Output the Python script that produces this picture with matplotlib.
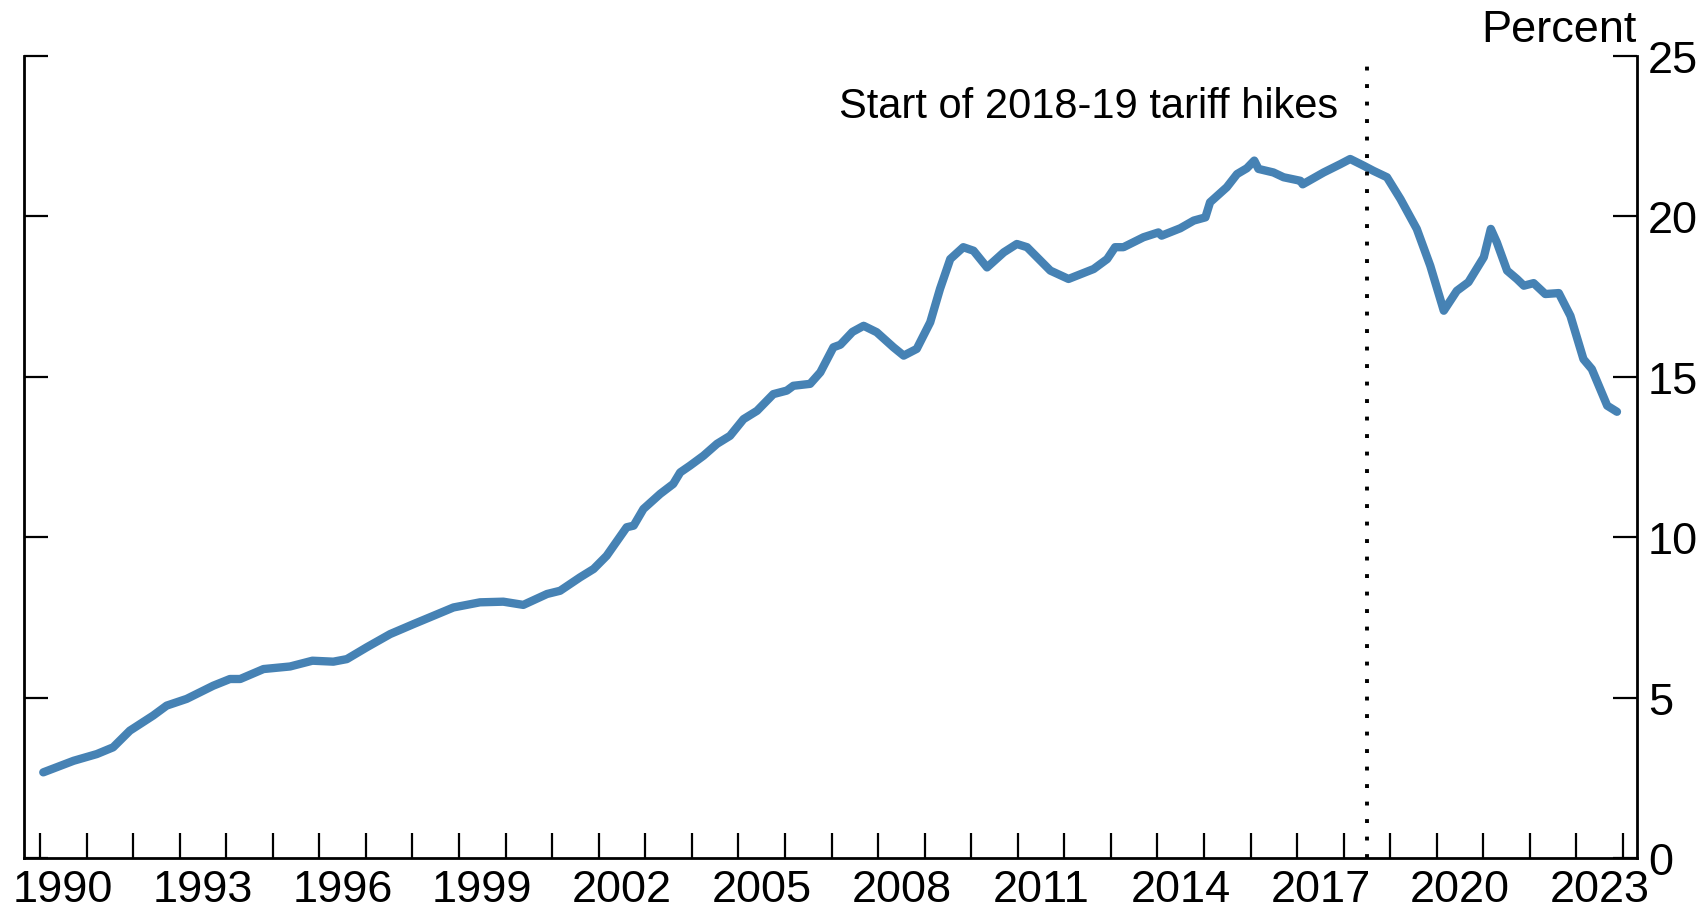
import matplotlib
matplotlib.use("Agg")
import matplotlib.pyplot as plt
import numpy as np

# China's share of US imports (decimal year, percent)
dates = [1990.07, 1990.72, 1991.22, 1991.57, 1991.93, 1992.43, 1992.72, 1993.15,
         1993.72, 1994.08, 1994.30, 1994.80, 1995.37, 1995.85, 1996.30, 1996.59,
         1997.02, 1997.52, 1998.02, 1998.45, 1998.88, 1999.45, 1999.95, 2000.38,
         2000.89, 2001.17, 2001.60, 2001.89, 2002.17, 2002.60, 2002.75, 2002.96,
         2003.32, 2003.60, 2003.75, 2003.96, 2004.25, 2004.54, 2004.82, 2005.11,
         2005.40, 2005.75, 2006.04, 2006.18, 2006.54, 2006.76, 2007.04, 2007.19,
         2007.45, 2007.69, 2007.97, 2008.33, 2008.55, 2008.83, 2009.12, 2009.33,
         2009.55, 2009.83, 2010.05, 2010.34, 2010.70, 2010.98, 2011.20, 2011.70,
         2012.09, 2012.63, 2012.92, 2013.09, 2013.27, 2013.70, 2014.02, 2014.09,
         2014.49, 2014.78, 2015.03, 2015.13, 2015.49, 2015.71, 2015.92, 2016.08,
         2016.17, 2016.49, 2016.71, 2017.07, 2017.12, 2017.57, 2017.93, 2018.14,
         2018.43, 2018.64, 2018.93, 2019.22, 2019.57, 2019.86, 2020.15, 2020.43,
         2020.68, 2021.01, 2021.16, 2021.29, 2021.51, 2021.72, 2021.87, 2022.08,
         2022.33, 2022.62, 2022.87, 2023.15, 2023.33, 2023.66, 2023.87]
share = [2.67, 3.03, 3.24, 3.45, 3.97, 4.44, 4.75, 4.96,
         5.37, 5.58, 5.58, 5.89, 5.97, 6.15, 6.12, 6.20,
         6.57, 6.98, 7.29, 7.55, 7.81, 7.97, 7.99, 7.89,
         8.23, 8.33, 8.75, 9.01, 9.42, 10.31, 10.36, 10.88,
         11.35, 11.66, 12.02, 12.23, 12.54, 12.91, 13.16, 13.68,
         13.94, 14.46, 14.57, 14.72, 14.78, 15.14, 15.92, 16.00,
         16.40, 16.59, 16.39, 15.92, 15.66, 15.87, 16.70, 17.74,
         18.67, 19.04, 18.93, 18.41, 18.88, 19.14, 19.04, 18.31,
         18.05, 18.36, 18.67, 19.04, 19.04, 19.35, 19.50, 19.40,
         19.63, 19.87, 19.97, 20.44, 20.91, 21.32, 21.50, 21.74,
         21.48, 21.37, 21.22, 21.11, 21.00, 21.37, 21.63, 21.79,
         21.58, 21.42, 21.22, 20.54, 19.61, 18.46, 17.06, 17.68,
         17.95, 18.73, 19.61, 19.19, 18.31, 18.05, 17.84, 17.92,
         17.58, 17.61, 16.90, 15.55, 15.24, 14.10, 13.91]

tariff_start = 2018.5
tariff_label = "Start of 2018-19 tariff hikes"
year_ticks = list(range(1990, 2025))
label_years = list(range(1990, 2024, 3))
y_ticks = [0, 5, 10, 15, 20, 25]

plt.rcParams['font.family'] = ['Liberation Sans', 'DejaVu Sans']

fig = plt.figure(figsize=(17.03, 9.12), dpi=100)
ax = fig.add_axes([24 / 1703, 1 - 859 / 912, (1637 - 24) / 1703, (859 - 57) / 912])

ax.plot(dates, share, color='#4682b4', lw=6.0, solid_joinstyle='round', solid_capstyle='round')
ax.vlines(tariff_start, 0, 24.8, colors='black', lw=2.8, linestyles=(0, (1, 3.5)))
ax.text(2017.88, 23.1, tariff_label, ha='right', va='baseline', fontsize=30)
ax.text(1.0, 1.0187, "Percent", transform=ax.transAxes, ha='right', va='baseline', fontsize=32.5)

ax.set_xlim(1989.656, 2024.30)
ax.set_ylim(0, 25)

ax.spines['top'].set_visible(False)
for s in ['left', 'right', 'bottom']:
    ax.spines[s].set_linewidth(2.0)

ax.set_xticks(year_ticks, [''] * len(year_ticks))
ax.set_xticks([y + 0.5 for y in label_years], [str(y) for y in label_years], minor=True)
ax.tick_params(axis='x', which='major', direction='in', length=18, width=1.6)
ax.tick_params(axis='x', which='minor', length=0, pad=8, labelsize=32.5)

ax.set_yticks(y_ticks)
ax.tick_params(axis='y', direction='in', left=True, right=True, labelleft=False,
               labelright=True, length=17, width=1.6, pad=8, labelsize=32.5)

fig.savefig('out.png', dpi=100)
